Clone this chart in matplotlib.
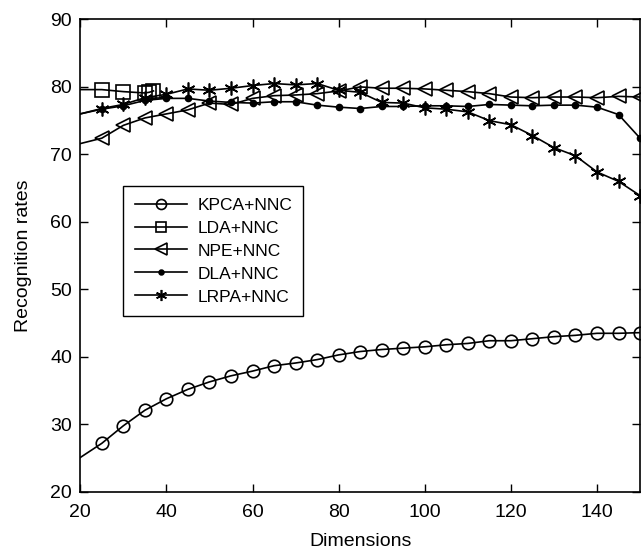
import numpy as np
import matplotlib
matplotlib.use('Agg')
import matplotlib.pyplot as plt

plt.rcParams['font.family'] = ['Liberation Sans', 'DejaVu Sans']

# Dimensiones evaluadas (el primer punto cae en el borde izquierdo, sin marcador)
dims = [20, 25, 30, 35, 40, 45, 50, 55, 60, 65, 70, 75, 80, 85, 90,
        95, 100, 105, 110, 115, 120, 125, 130, 135, 140, 145, 150]
dims_lda = [20, 25, 30, 35, 36, 37]

kpca = [25.1, 27.2, 29.8, 32.1, 33.8, 35.2, 36.3, 37.2, 37.9, 38.7, 39.1, 39.6, 40.3, 40.8,
        41.1, 41.3, 41.5, 41.8, 42.0, 42.4, 42.4, 42.7, 43.0, 43.2, 43.5, 43.5, 43.6]
lda = [79.6, 79.6, 79.3, 79.1, 79.2, 79.4]
npe = [71.6, 72.4, 74.3, 75.4, 76.0, 76.6, 77.6, 77.4, 78.3, 78.7, 78.8, 79.0, 79.4, 80.0,
       79.8, 79.8, 79.7, 79.5, 79.3, 79.0, 78.5, 78.4, 78.5, 78.5, 78.4, 78.6, 78.5]
dla = [76.0, 76.7, 77.2, 78.0, 78.3, 78.3, 77.9, 77.7, 77.6, 77.8, 77.8, 77.3, 77.0, 76.8,
       77.1, 77.1, 77.2, 77.2, 77.1, 77.4, 77.3, 77.2, 77.3, 77.3, 77.0, 75.9, 72.4]
lrpa = [76.0, 76.8, 77.4, 78.4, 78.9, 79.7, 79.5, 79.8, 80.2, 80.5, 80.3, 80.5, 79.5, 79.2,
        77.7, 77.6, 76.9, 76.7, 76.3, 75.0, 74.4, 72.8, 71.0, 69.8, 67.4, 66.0, 63.9]

x_ticks = [20, 40, 60, 80, 100, 120, 140]
y_ticks = [20, 30, 40, 50, 60, 70, 80, 90]

fig = plt.figure(figsize=(6.42, 5.54), dpi=100)
ax = fig.add_axes([0.125, 0.112, 0.872, 0.853])

lw = 1.2
estilo = dict(color='black', linewidth=lw, markeredgewidth=lw, markevery=slice(1, None))

ax.plot(dims, kpca, marker='o', markersize=9, markerfacecolor='none', label='KPCA+NNC', **estilo)
ax.plot(dims_lda, lda, marker='s', markersize=9.5, markerfacecolor='none', label='LDA+NNC', **estilo)
ax.plot(dims, npe, marker='<', markersize=10, markerfacecolor='none', label='NPE+NNC', **estilo)
ax.plot(dims, dla, marker='o', markersize=4.3, markerfacecolor='black', label='DLA+NNC', **estilo)
ax.plot(dims, lrpa, marker=(6, 2, 0), markersize=10, label='LRPA+NNC', **estilo)

ax.set_xlim(20, 150)
ax.set_ylim(20, 90)
ax.set_xticks(x_ticks)
ax.set_yticks(y_ticks)
ax.tick_params(direction='in', top=True, right=True, length=6, width=1,
               labelsize=14, pad=6)
ax.tick_params(axis='x', pad=9)
for s in ax.spines.values():
    s.set_linewidth(1.2)

ax.set_xlabel('Dimensions', fontsize=14, labelpad=8)
ax.set_ylabel('Recognition rates', fontsize=14, labelpad=13)

leg = ax.legend(loc='upper left', bbox_to_anchor=(0.077, 0.647), borderaxespad=0,
                fontsize=12.5, handlelength=3.0, handletextpad=0.6, labelspacing=0.45,
                borderpad=0.65, fancybox=False, framealpha=1, edgecolor='black')
leg.get_frame().set_linewidth(1.0)
for h in leg.legend_handles:
    h.set_markersize(h.get_markersize() * 0.8)

fig.savefig('out.png', dpi=100)
